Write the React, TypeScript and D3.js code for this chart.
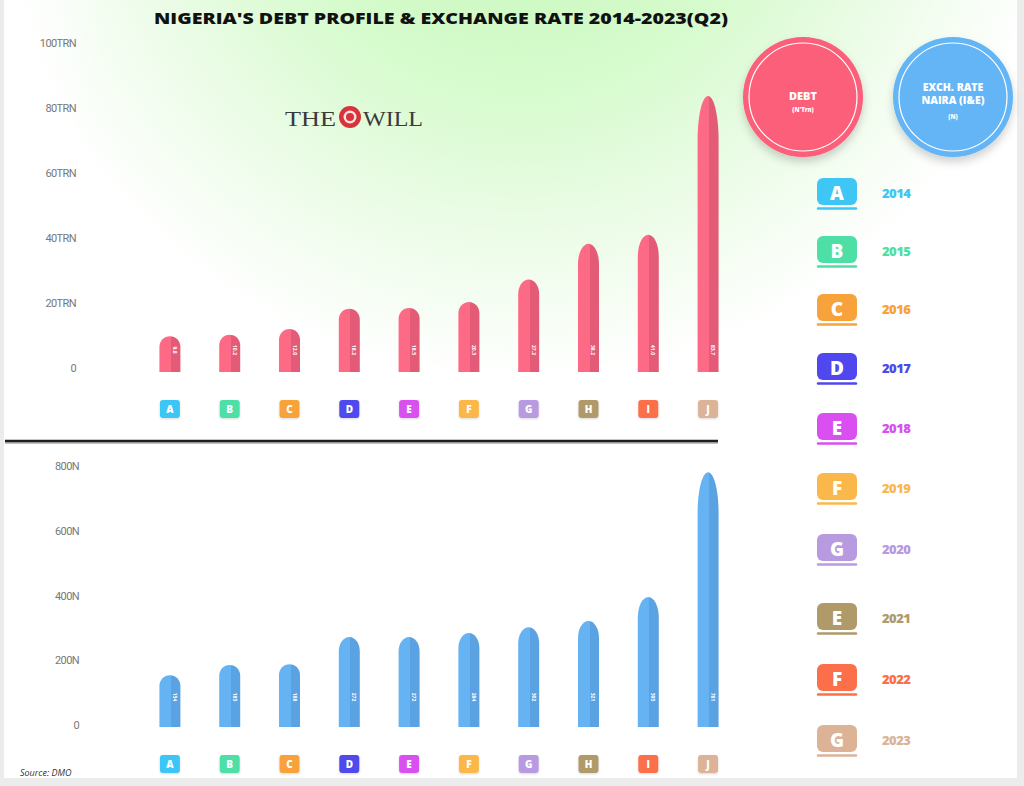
import React from "react";
import * as d3 from "d3";

const letters = ["A", "B", "C", "D", "E", "F", "G", "H", "I", "J"];
const years = ["2014", "2015", "2016", "2017", "2018", "2019", "2020", "2021", "2022", "2023"];
const legendLetters = ["A", "B", "C", "D", "E", "F", "G", "E", "F", "G"];
const debtTrn = [9.8, 10.2, 12.0, 18.2, 18.5, 20.3, 27.2, 38.2, 41.0, 83.7];
const exchRate = [154, 185, 188, 272, 272, 284, 302, 321, 395, 781];
const debtTicks = [0, 20, 40, 60, 80, 100];
const rateTicks = [0, 200, 400, 600, 800];
const yearColors = [
  "#3ec6f5", "#4ddfa6", "#f7a23a", "#5048ee", "#d94ff0",
  "#fbb84a", "#b89ae0", "#b09a6a", "#fb6f4a", "#dcb396",
];

const W = 1024;
const H = 786;
const barW = 21;

// bullet-shaped bar: flat bottom, rounded / pointed top
const bulletPath = (cx: number, yb: number, yt: number) => {
  const h = yb - yt;
  const cap = Math.min(h, Math.max(barW / 2, h * 0.16));
  const x0 = cx - barW / 2;
  const x1 = cx + barW / 2;
  const p = d3.path();
  p.moveTo(x0, yb);
  p.lineTo(x0, yt + cap);
  p.bezierCurveTo(x0, yt + cap * 0.45, cx - barW * 0.28, yt, cx, yt);
  p.bezierCurveTo(cx + barW * 0.28, yt, x1, yt + cap * 0.45, x1, yt + cap);
  p.lineTo(x1, yb);
  p.closePath();
  return p.toString();
};

const Badge = ({ x, y, i }: { x: number; y: number; i: number }) => (
  <g>
    <rect x={x - 10} y={y - 9} width={20} height={18} rx={3} fill={yearColors[i]} filter="url(#soft)" />
    <text x={x} y={y + 3.5} textAnchor="middle" fontSize={10} fontWeight={800} fill="#fff"
      fontFamily="'Open Sans', sans-serif">{letters[i]}</text>
  </g>
);

export default function App() {
  const x = d3.scaleBand<string>().domain(years).range([143, 735]).paddingInner(0.1);
  const cx = (i: number) => (x(years[i]) ?? 0) + x.bandwidth() / 2;

  const yDebt = d3.scaleLinear().domain([0, 100]).range([368, 43]);
  const yRate = d3.scaleLinear().domain([0, 800]).range([725, 466]);

  const legendY = d3.scaleOrdinal<string, number>()
    .domain(years)
    .range([193, 251, 309, 368, 428, 488, 549, 618, 679, 740]);

  const font = "'Open Sans', 'DejaVu Sans', sans-serif";

  return (
    <svg width={W} height={H} style={{ position: "absolute", left: 0, top: 0 }}>
      <defs>
        <radialGradient id="bg" cx="520" cy="-160" r="820" gradientUnits="userSpaceOnUse">
          <stop offset="0" stopColor="#c2f6b6" />
          <stop offset="0.3" stopColor="#d6fbcd" />
          <stop offset="0.5" stopColor="#eefcea" />
          <stop offset="0.66" stopColor="#ffffff" />
        </radialGradient>
        <linearGradient id="leftFade" x1="0" x2="1" y1="0" y2="0">
          <stop offset="0" stopColor="#fff" stopOpacity="0.85" />
          <stop offset="1" stopColor="#fff" stopOpacity="0" />
        </linearGradient>
        <linearGradient id="pinkBar" x1="0" x2="1" y1="0" y2="0">
          <stop offset="0" stopColor="#fc6a85" />
          <stop offset="0.55" stopColor="#fc6a85" />
          <stop offset="0.55" stopColor="#e35b76" />
          <stop offset="1" stopColor="#e35b76" />
        </linearGradient>
        <linearGradient id="blueBar" x1="0" x2="1" y1="0" y2="0">
          <stop offset="0" stopColor="#66b3f4" />
          <stop offset="0.55" stopColor="#66b3f4" />
          <stop offset="0.55" stopColor="#5aa2e2" />
          <stop offset="1" stopColor="#5aa2e2" />
        </linearGradient>
        <filter id="shadow" x="-20%" y="-20%" width="140%" height="150%">
          <feDropShadow dx="0" dy="5" stdDeviation="4" floodColor="#000" floodOpacity="0.18" />
        </filter>
        <filter id="soft" x="-30%" y="-30%" width="160%" height="170%">
          <feDropShadow dx="0" dy="1" stdDeviation="1" floodColor="#000" floodOpacity="0.15" />
        </filter>
      </defs>

      {/* card */}
      <rect x={0} y={0} width={W} height={H} fill="#ececec" />
      <rect x={4} y={-4} width={1013} height={782} fill="#fff" />
      <rect x={4} y={-4} width={1013} height={782} fill="url(#bg)" />
      <rect x={4} y={-4} width={100} height={300} fill="url(#leftFade)" />

      {/* title */}
      <text x={441} y={24} textAnchor="middle" fontSize={15} fontWeight={800} fill="#111"
        fontFamily={font} textLength={574} lengthAdjust="spacingAndGlyphs">
        NIGERIA'S DEBT PROFILE &amp; EXCHANGE RATE 2014-2023(Q2)
      </text>

      {/* logo */}
      <g fontFamily="'Liberation Serif', 'DejaVu Serif', serif" fill="#3a3a3a" fontSize={22}>
        <text x={285} y={126} textLength={51} lengthAdjust="spacingAndGlyphs">THE</text>
        <circle cx={350} cy={117} r={11} fill="#d8323b" />
        <circle cx={350} cy={117} r={6.5} fill="#fff" opacity={0.85} />
        <circle cx={350} cy={117} r={4} fill="#d8323b" />
        <text x={363} y={126} textLength={60} lengthAdjust="spacingAndGlyphs">WILL</text>
      </g>

      {/* debt axis labels */}
      {debtTicks.map((t) => (
        <text key={"d" + t} x={76} y={yDebt(t) + 4} textAnchor="end" fontSize={11} fill="#777"
          fontFamily="'Roboto', sans-serif" letterSpacing={-0.6}>
          {t === 0 ? "0" : `${t}TRN`}
        </text>
      ))}

      {/* debt bars */}
      {debtTrn.map((v, i) => (
        <g key={"db" + i}>
          <path d={bulletPath(cx(i), yDebt(0) + 4, yDebt(v))} fill="url(#pinkBar)" />
          <text transform={`translate(${cx(i) + 3},${yDebt(0) - 18}) rotate(90)`} textAnchor="middle"
            fontSize={5} fill="#fff" fontFamily={font} fontWeight={700}>
            {v.toFixed(1)}
          </text>
          <Badge x={cx(i)} y={409} i={i} />
        </g>
      ))}

      {/* divider */}
      <line x1={5} x2={718} y1={443} y2={443} stroke="#999" strokeWidth={2} opacity={0.6} />
      <line x1={5} x2={718} y1={441} y2={441} stroke="#1e1e1e" strokeWidth={2.5} />

      {/* rate axis labels */}
      {rateTicks.map((t) => (
        <text key={"r" + t} x={79} y={yRate(t) + 4} textAnchor="end" fontSize={11} fill="#777"
          fontFamily="'Roboto', sans-serif" letterSpacing={-0.6}>
          {t === 0 ? "0" : `${t}N`}
        </text>
      ))}

      {/* rate bars */}
      {exchRate.map((v, i) => (
        <g key={"rb" + i}>
          <path d={bulletPath(cx(i), yRate(0) + 2, yRate(v))} fill="url(#blueBar)" />
          <text transform={`translate(${cx(i) + 3},${yRate(0) - 28}) rotate(90)`} textAnchor="middle"
            fontSize={5} fill="#fff" fontFamily={font} fontWeight={700}>
            {v.toFixed(0)}
          </text>
          <Badge x={cx(i)} y={764} i={i} />
        </g>
      ))}

      <text x={20} y={776} fontSize={9} fontStyle="italic" fill="#333" fontFamily={font}>
        Source: DMO
      </text>

      {/* legend circles */}
      <g filter="url(#shadow)">
        <circle cx={803} cy={97} r={60} fill="#fb5f7a" />
        <circle cx={953} cy={97} r={60} fill="#64b5f6" />
      </g>
      <circle cx={803} cy={97} r={54} fill="none" stroke="#fff" strokeWidth={1.2} />
      <circle cx={953} cy={97} r={54} fill="none" stroke="#fff" strokeWidth={1.2} />
      <g fill="#fff" fontFamily={font} fontWeight={800} textAnchor="middle">
        <text x={803} y={100} fontSize={11}>DEBT</text>
        <text x={803} y={112} fontSize={6}>(N'Trn)</text>
        <text x={953} y={91} fontSize={10.5}>EXCH. RATE</text>
        <text x={953} y={104} fontSize={10.5}>NAIRA (I&amp;E)</text>
        <text x={953} y={119} fontSize={6}>(N)</text>
      </g>

      {/* legend items */}
      {years.map((yr, i) => {
        const y = legendY(yr);
        return (
          <g key={"l" + yr}>
            <rect x={817} y={y - 15} width={40} height={27} rx={6} fill={yearColors[i]} />
            <line x1={818} x2={856} y1={y + 15.5} y2={y + 15.5} stroke={yearColors[i]} strokeWidth={2.5}
              strokeLinecap="round" />
            <text x={837} y={y + 6.5} textAnchor="middle" fontSize={19} fontWeight={800} fill="#fff"
              fontFamily={font}>{legendLetters[i]}</text>
            <text x={882} y={y + 5} fontSize={13} fontWeight={800} fill={yearColors[i]} fontFamily={font}
              letterSpacing={-0.5}>{yr}</text>
          </g>
        );
      })}
    </svg>
  );
}
